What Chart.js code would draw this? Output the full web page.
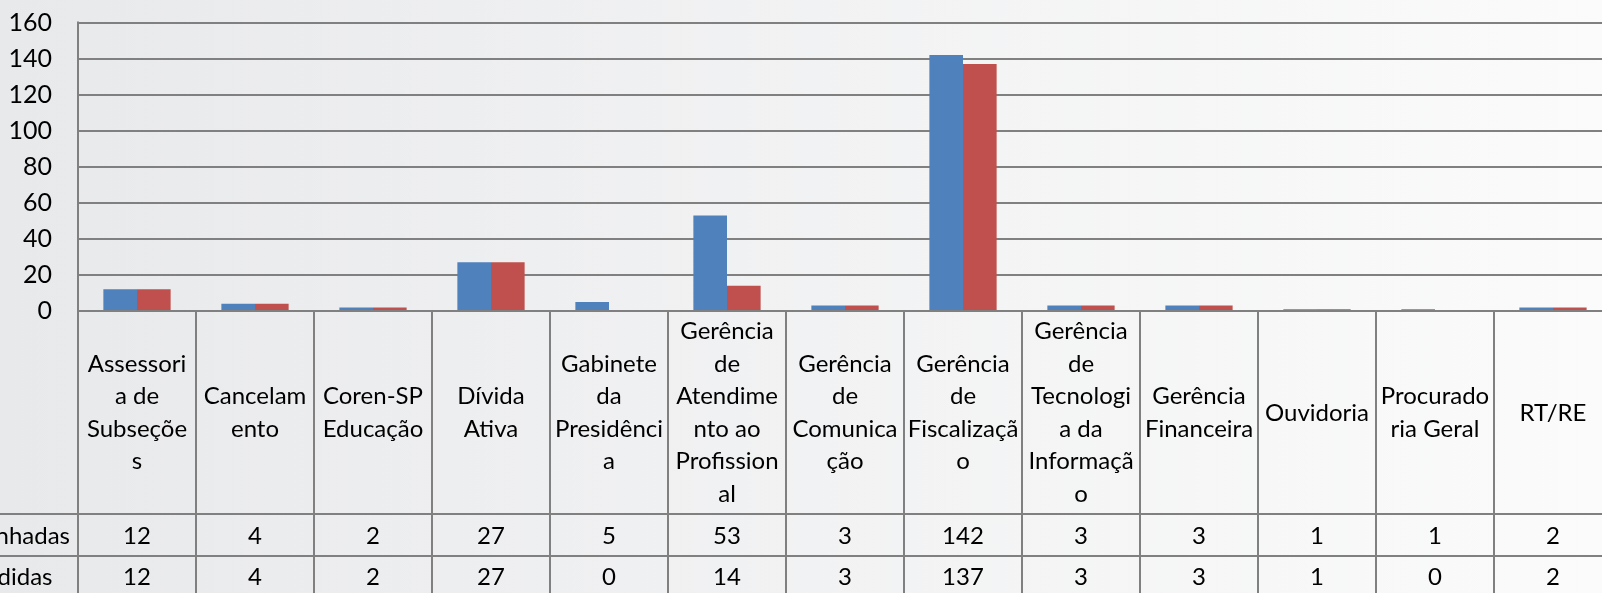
<!DOCTYPE html>
<html>
<head>
<meta charset="utf-8">
<script src="https://cdn.jsdelivr.net/npm/chart.js@4"></script>
<style>
  html, body { margin: 0; padding: 0; overflow: hidden; background: #f2f2f3; }
  canvas { display: block; }
</style>
</head>
<body>
<canvas id="myChart" width="1612" height="593"></canvas>
<script>
// Data
const categories = [
    ['Assessori', 'a de', 'Subseçõe', 's'],
    ['Cancelam', 'ento'],
    ['Coren-SP', 'Educação'],
    ['Dívida', 'Ativa'],
    ['Gabinete', 'da', 'Presidênci', 'a'],
    ['Gerência', 'de', 'Atendime', 'nto ao', 'Profission', 'al'],
    ['Gerência', 'de', 'Comunica', 'ção'],
    ['Gerência', 'de', 'Fiscalizaçã', 'o'],
    ['Gerência', 'de', 'Tecnologi', 'a da', 'Informaçã', 'o'],
    ['Gerência', 'Financeira'],
    ['Ouvidoria'],
    ['Procurado', 'ria Geral'],
    ['RT/RE']
];
const seriesNames = ['Encaminhadas', 'Respondidas'];
const encaminhadas = [12, 4, 2, 27, 5, 53, 3, 142, 3, 3, 1, 1, 2];
const respondidas = [12, 4, 2, 27, 0, 14, 3, 137, 3, 3, 1, 0, 2];
const seriesColors = ['#4f81bd', '#c0504d'];

const FONT = 'Lato, "Open Sans", sans-serif';
const lineColor = '#808080';

// background gradient behind everything
const background = {
    id: 'background',
    beforeDraw(chart) {
        const ctx = chart.ctx;
        const g = ctx.createLinearGradient(0, 0, chart.width, 0);
        g.addColorStop(0, '#e8e9eb');
        g.addColorStop(1, '#fbfbfb');
        ctx.save();
        ctx.fillStyle = g;
        ctx.fillRect(0, 0, chart.width, chart.height);
        ctx.restore();
    }
};

// data table under the plot (Excel style)
const dataTable = {
    id: 'dataTable',
    afterDraw(chart) {
        const ctx = chart.ctx;
        const area = chart.chartArea;
        const x = chart.scales.x;
        const n = categories.length;
        const step = (area.right - area.left) / n;
        const top = area.bottom;
        const row1 = 514, row2 = 556, bottom = 600;

        ctx.save();
        ctx.strokeStyle = lineColor;
        ctx.lineWidth = 2;

        // horizontal lines
        [row1, row2].forEach(y => {
            ctx.beginPath();
            ctx.moveTo(0, y);
            ctx.lineTo(chart.width, y);
            ctx.stroke();
        });
        // vertical lines
        for (let i = 0; i <= n; i++) {
            const bx = Math.round(area.left + i * step);
            ctx.beginPath();
            ctx.moveTo(bx, i === 0 ? area.top - 1 : top);
            ctx.lineTo(bx, bottom);
            ctx.stroke();
        }

        ctx.fillStyle = '#000';
        ctx.font = '24px ' + FONT;
        ctx.textAlign = 'center';
        ctx.textBaseline = 'middle';
        const lh = 32.5;
        const mid = 413;
        categories.forEach((lines, i) => {
            const cx = x.getPixelForValue(i);
            const y0 = mid - (lines.length - 1) * lh / 2;
            lines.forEach((t, k) => ctx.fillText(t, cx, y0 + k * lh));
            ctx.fillText(String(encaminhadas[i]), cx, 536);
            ctx.fillText(String(respondidas[i]), cx, 577);
        });

        // series names (cut by the left edge like the picture)
        ctx.textAlign = 'left';
        const lx = 70 - ctx.measureText(seriesNames[0]).width;
        ctx.fillText(seriesNames[0], lx, 536);
        ctx.fillText(seriesNames[1], lx, 577);
        ctx.restore();
    }
};

const config = {
    type: 'bar',
    data: {
        labels: categories,
        datasets: [
            { label: seriesNames[0], data: encaminhadas, backgroundColor: seriesColors[0] },
            { label: seriesNames[1], data: respondidas, backgroundColor: seriesColors[1] }
        ]
    },
    options: {
        responsive: false,
        animation: false,
        layout: { padding: { top: 22.5, bottom: 282, left: 0, right: 0 } },
        plugins: {
            legend: { display: false },
            tooltip: { enabled: false }
        },
        datasets: {
            bar: { barPercentage: 1, categoryPercentage: 0.57 }
        },
        scales: {
            x: { display: false },
            y: {
                min: 0,
                max: 160,
                afterFit(scale) {
                    scale.width = 78;
                    scale.paddingTop = 0;
                    scale.paddingBottom = 0;
                },
                ticks: {
                    stepSize: 20,
                    padding: 26,
                    color: '#000',
                    font: { family: FONT, size: 25 }
                },
                grid: { color: lineColor, lineWidth: 2, drawTicks: false },
                border: { color: lineColor, width: 2 }
            }
        }
    },
    plugins: [background, dataTable]
};

var myChart = new Chart(document.getElementById('myChart'), config);
</script>
</body>
</html>
